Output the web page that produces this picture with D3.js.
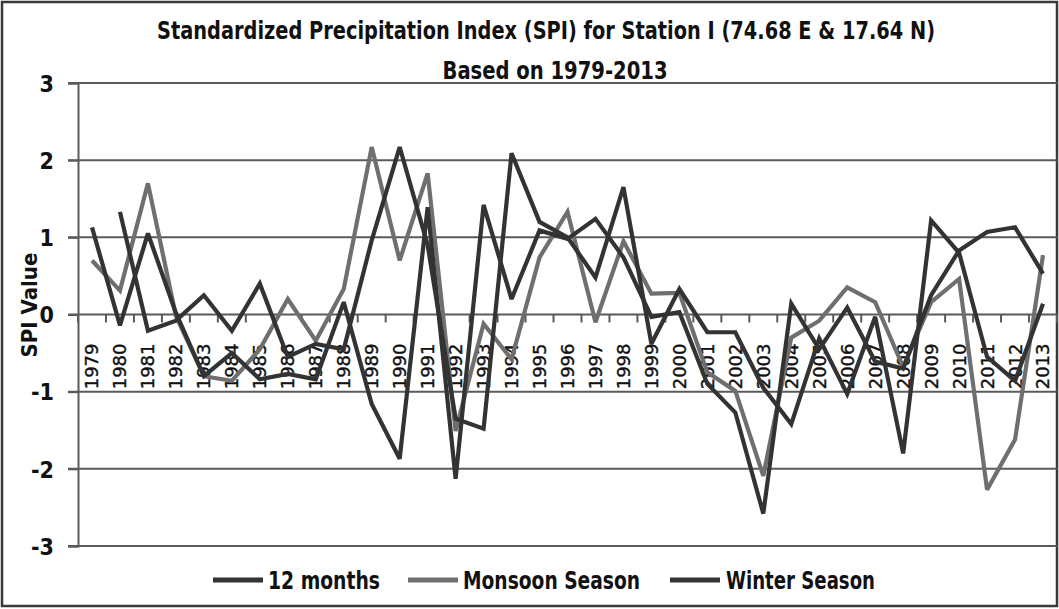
<!DOCTYPE html>
<html><head><meta charset="utf-8">
<script src="https://cdn.jsdelivr.net/npm/d3@7"></script>
<style>
body{margin:0;background:#fff;}
svg{display:block;}
.cond{font-family:"Liberation Sans Narrow","Arial Narrow","DejaVu Sans Condensed",sans-serif;font-weight:bold;}
</style></head>
<body>
<svg id="chart" width="1059" height="609"></svg>
<script>
const years = ["1979","1980","1981","1982","1983","1984","1985","1986","1987","1988","1989","1990","1991","1992","1993","1994","1995","1996","1997","1998","1999","2000","2001","2002","2003","2004","2005","2006","2007","2008","2009","2010","2011","2012","2013"];
const twelveMonths = [1.13,-0.14,1.05,0.02,-0.80,-0.50,-0.84,-0.77,-0.84,0.16,-1.16,-1.87,1.39,-2.13,1.42,0.20,1.09,0.98,1.24,0.74,-0.03,0.03,-0.90,-1.27,-2.58,0.14,-0.45,0.09,-0.61,-0.70,0.25,0.83,1.07,1.13,0.53];
const monsoon = [0.70,0.31,1.70,-0.02,-0.80,-0.86,-0.45,0.20,-0.34,0.33,2.17,0.70,1.83,-1.51,-0.12,-0.58,0.74,1.33,-0.10,0.95,0.27,0.28,-0.75,-0.99,-2.09,-0.30,-0.08,0.35,0.16,-0.68,0.16,0.46,-2.27,-1.62,0.77];
const winter = [null,1.33,-0.21,-0.08,0.25,-0.21,0.40,-0.55,-0.38,-0.45,0.96,2.17,0.90,-1.35,-1.48,2.09,1.20,1.00,0.48,1.65,-0.38,0.33,-0.23,-0.23,-0.95,-1.42,-0.31,-1.03,-0.03,-1.80,1.22,0.80,-0.55,-0.86,0.14];
const yTicks = [-3,-2,-1,0,1,2,3];
const seriesNames = ["12 months","Monsoon Season","Winter Season"];
const seriesColors = ["#333333","#6f6f6f","#333333"];
const titleLines = ["Standardized Precipitation Index (SPI) for Station I (74.68 E & 17.64 N)","Based on 1979-2013"];

const svg = d3.select("#chart");
const L = 78, R = 1057, T = 83, B = 546;
const x = d3.scaleBand().domain(years).range([L, R]).padding(0);
const y = d3.scaleLinear().domain([-3, 3]).range([B, T]);

// outer border
svg.append("rect").attr("x",2).attr("y",2).attr("width",1055).attr("height",604)
  .attr("fill","none").attr("stroke","#3a3a3a").attr("stroke-width",2.5);

// gridlines
svg.append("g").selectAll("line").data(yTicks).join("line")
  .attr("x1", L - 10).attr("x2", R).attr("y1", d => y(d)).attr("y2", d => y(d))
  .attr("stroke", "#5a5a5a").attr("stroke-width", 2);

// y axis
const yAxis = svg.append("g").attr("transform", `translate(${L},0)`)
  .call(d3.axisLeft(y).tickValues(yTicks).tickSize(10).tickFormat(d3.format("d")));
yAxis.select(".domain").attr("stroke","#5a5a5a").attr("stroke-width",2);
yAxis.selectAll(".tick line").attr("stroke","#5a5a5a").attr("stroke-width",2);
yAxis.selectAll(".tick text").attr("class","cond").attr("x",-24).attr("dy","0.36em")
  .style("font-size","23px").attr("fill","#111").text(d => d < 0 ? "-" + Math.abs(d) : d);

// x axis at zero: boundary ticks
const y0 = y(0);
svg.append("g").selectAll("line").data(years.concat(["end"])).join("line")
  .attr("x1", d => d === "end" ? R : x(d)).attr("x2", d => d === "end" ? R : x(d))
  .attr("y1", y0).attr("y2", y0 + 8)
  .attr("stroke","#5a5a5a").attr("stroke-width",2);

// x labels
const xAxis = svg.append("g").attr("transform", `translate(0,${y0})`)
  .call(d3.axisBottom(x).tickSize(0));
xAxis.select(".domain").remove();
xAxis.selectAll(".tick text")
  .attr("transform","rotate(-90)")
  .attr("x",-29).attr("y",0).attr("dy","0.36em")
  .attr("text-anchor","end")
  .style("font-family","'DejaVu Sans',sans-serif").style("font-size","18px")
  .attr("fill","#111").attr("stroke","#111").attr("stroke-width",0.4);

// lines
const lineGen = d3.line()
  .defined(d => d.v !== null)
  .x(d => x(d.year) + x.bandwidth()/2)
  .y(d => y(d.v));
const allSeries = [twelveMonths, monsoon, winter];
const drawOrder = [1, 0, 2];
drawOrder.forEach(i => {
  const data = years.map((yr, j) => ({year: yr, v: allSeries[i][j]}));
  svg.append("path").datum(data).attr("d", lineGen)
    .attr("fill","none").attr("stroke", seriesColors[i]).attr("stroke-width",4.2)
    .attr("stroke-linejoin","miter").attr("stroke-miterlimit",3);
});

// title
svg.append("text").attr("class","cond").attr("x",546).attr("y",39).attr("text-anchor","middle")
  .style("font-size","24px").attr("fill","#111")
  .attr("textLength",778).attr("lengthAdjust","spacingAndGlyphs").text(titleLines[0]);
svg.append("text").attr("class","cond").attr("x",555).attr("y",79).attr("text-anchor","middle")
  .style("font-size","24px").attr("fill","#111")
  .attr("textLength",225).attr("lengthAdjust","spacingAndGlyphs").text(titleLines[1]);

// y axis title
svg.append("text").attr("class","cond")
  .attr("transform","translate(37,305) rotate(-90)").attr("text-anchor","middle")
  .style("font-size","22px").attr("fill","#111").text("SPI  Value");

// legend
const legendPos = [{lx:213, tx:268, tw:112},{lx:408, tx:463, tw:177},{lx:670, tx:726, tw:149}];
const lg = svg.append("g");
seriesNames.forEach((name, i) => {
  const p = legendPos[i];
  lg.append("line").attr("x1",p.lx).attr("x2",p.lx+50).attr("y1",580).attr("y2",580)
    .attr("stroke",seriesColors[i]).attr("stroke-width",5);
  lg.append("text").attr("class","cond").attr("x",p.tx).attr("y",589)
    .style("font-size","24px").attr("fill","#111")
    .attr("textLength",p.tw).attr("lengthAdjust","spacingAndGlyphs").text(name);
});
</script>
</body></html>
